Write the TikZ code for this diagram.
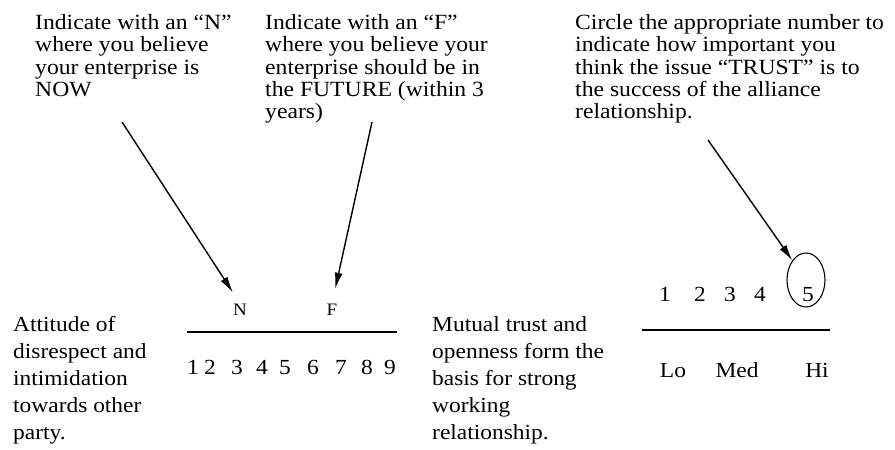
\documentclass[tikz,border=0pt]{standalone}
\usepackage{fontspec}
\setmainfont{Liberation Serif}[FakeStretch=1.09]
\usetikzlibrary{arrows.meta,shapes.geometric}
\begin{document}
\begin{tikzpicture}[x=1pt,y=-1pt,
txt/.style={anchor=base west,align=left,inner sep=0pt,font=\fontsize{21.7}{22.4}\selectfont},
btxt/.style={txt,font=\fontsize{21.5}{27}\selectfont},
dig/.style={anchor=base,inner sep=0pt,font=\fontsize{21.5}{24}\selectfont},
ltr/.style={anchor=base,inner sep=0pt,font=\fontsize{17.5}{18}\selectfont},
arr/.style={line width=1.4pt,-{Latex[length=16pt,width=8pt]}}]
\useasboundingbox(0,0)rectangle(895,450);
% questions (placed by the baseline of their last line)
\node[txt](nowq)at(35,96.5){Indicate with an “N”\\where you believe\\your enterprise is\\NOW};
\node[txt](futq)at(265,118.9){Indicate with an “F”\\where you believe your\\enterprise should be in\\the FUTURE (within 3\\years)};
\node[txt](trq)at(575,118.9){Circle the appropriate number to\\indicate how important you\\think the issue “TRUST” is to\\the success of the alliance\\relationship.};
% ends of the scale
\node[btxt](lo)at(13,439.7){Attitude of\\disrespect and\\intimidation\\towards other\\party.};
\node[btxt](hi)at(432,439.7){Mutual trust and\\openness form the\\basis for strong\\working\\relationship.};
% scale 1 to 9
\node[ltr](nn)at(240,315){N};\node[ltr](ff)at(332,315){F};
\draw[line width=1.8pt](187,331.7)--(397,331.7);
\foreach \d/\x in {1/193,2/210,3/237,4/262,5/285,6/313,7/341,8/367,9/390}\node[dig](s\d)at(\x,374){\d};
% scale 1 to 5
\foreach \d/\x in {1/665,2/700,3/730,4/760,5/808}\node[dig](t\d)at(\x,301.7){\d};
\node[draw,ellipse,line width=1.1pt,minimum width=38pt,minimum height=54pt,inner sep=0pt](ring)at(806,280){};
\draw[line width=1.8pt](642,330)--(830,330);
\node[dig](lw)at(673,377){Lo};\node[dig](md)at(737,377){Med};\node[dig](hg)at(817,377){Hi};
% pointers
\coordinate(na)at(122,122);\coordinate(fa)at(372,122);\coordinate(ta)at(708,140);
\draw[arr,shorten >=13pt](na)--(nn.north);
\draw[arr,shorten >=15pt](fa)--(ff.north);
\draw[arr](ta)--(ring);
\end{tikzpicture}
\end{document}
